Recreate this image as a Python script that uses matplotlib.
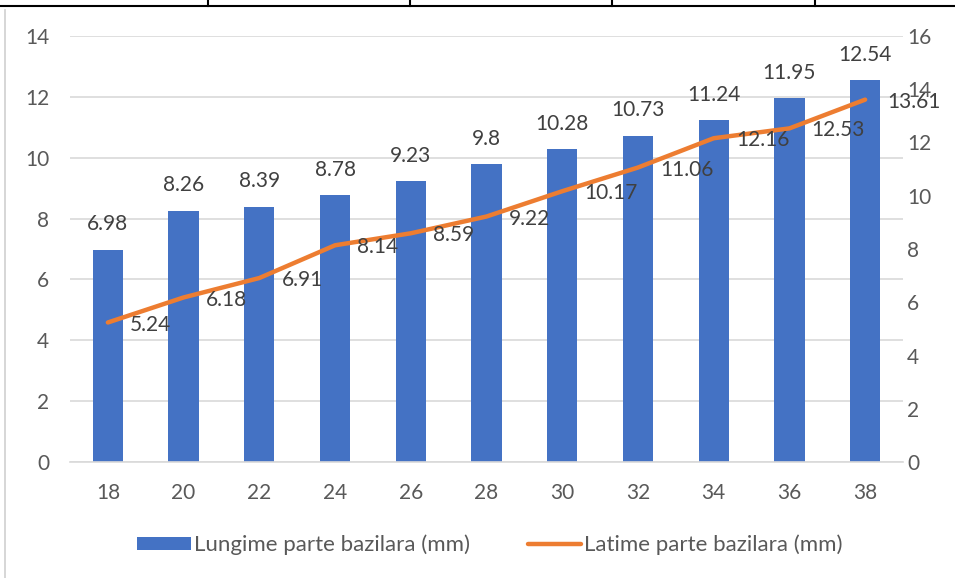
import matplotlib
matplotlib.use("Agg")
import matplotlib.pyplot as plt
from matplotlib.lines import Line2D
from matplotlib.patches import Patch
import numpy as np

categories = ["18", "20", "22", "24", "26", "28", "30", "32", "34", "36", "38"]
lungime = [6.98, 8.26, 8.39, 8.78, 9.23, 9.8, 10.28, 10.73, 11.24, 11.95, 12.54]
latime = [5.24, 6.18, 6.91, 8.14, 8.59, 9.22, 10.17, 11.06, 12.16, 12.53, 13.61]
lungime_labels = ["6.98", "8.26", "8.39", "8.78", "9.23", "9.8", "10.28", "10.73", "11.24", "11.95", "12.54"]
latime_labels = ["5.24", "6.18", "6.91", "8.14", "8.59", "9.22", "10.17", "11.06", "12.16", "12.53", "13.61"]
series_names = ["Lungime parte bazilara (mm)", "Latime parte bazilara (mm)"]

plt.rcParams['font.family'] = ['Lato', 'DejaVu Sans']
BLUE = "#4472C4"
ORANGE = "#ED7D31"
GRID = "#D9D9D9"
TXT = "#595959"
LBL = "#404040"
FS = 15

fig = plt.figure(figsize=(9.55, 5.78), dpi=100)
ax = fig.add_axes([70/955, 1-462/578, (903-70)/955, (462-36)/578])
ax2 = ax.twinx()

x = np.arange(len(categories))
bars = ax.bar(x, lungime, width=0.4, color=BLUE, zorder=2)
ax.set_xlim(-0.5, len(categories)-0.5)
ax.set_ylim(0, 14)
ax.set_yticks(np.arange(0, 15, 2))
ax.yaxis.grid(True, color=GRID, linewidth=1.2, zorder=0)
ax.set_axisbelow(True)
ax.set_xticks(x)
ax.set_xticklabels(categories)
for s in ["top", "left", "right"]:
    ax.spines[s].set_visible(False)
ax.spines["bottom"].set_color(GRID)
ax.spines["bottom"].set_linewidth(1.2)
ax.tick_params(axis='both', length=0, colors=TXT, labelsize=FS)
ax.tick_params(axis='x', pad=15)
ax.tick_params(axis='y', pad=15)

for xi, v, t in zip(x, lungime, lungime_labels):
    ax.annotate(t, (xi, v), xytext=(0, 11), textcoords='offset points',
                ha='center', va='bottom', fontsize=FS, color=LBL)

ax2.plot(x, latime, color=ORANGE, linewidth=3.2, solid_capstyle='round', zorder=3)
ax2.set_ylim(0, 16)
ax2.set_yticks(np.arange(0, 17, 2))
for s in ["top", "left", "right", "bottom"]:
    ax2.spines[s].set_visible(False)
ax2.tick_params(axis='y', length=0, colors=TXT, labelsize=FS, pad=3)
for xi, v, t in zip(x, latime, latime_labels):
    ax2.annotate(t, (xi, v), xytext=(16, -1.5), textcoords='offset points',
                 ha='left', va='center', fontsize=FS, color=LBL, zorder=5)

handles = [Patch(facecolor=BLUE, edgecolor='none'),
           Line2D([0], [0], color=ORANGE, linewidth=3.2, solid_capstyle='round')]
fig.legend(handles, series_names, loc='center', bbox_to_anchor=(490/955, 1-545/578),
           ncol=2, frameon=False, fontsize=16, labelcolor=TXT,
           handlelength=2.4, handleheight=0.55, handletextpad=0.15, columnspacing=2.6)

# document table borders
fig.add_artist(Line2D([0, 1], [1-6/578, 1-6/578], color='black', linewidth=1.5, transform=fig.transFigure))
for xv in [208, 410, 612, 815]:
    fig.add_artist(Line2D([xv/955, xv/955], [1-6/578, 1], color='black', linewidth=1.5, transform=fig.transFigure))
fig.add_artist(Line2D([5/955, 5/955], [0, 1-10/578], color='#D0D0D0', linewidth=1.2, transform=fig.transFigure))

fig.savefig("out.png", dpi=100, facecolor='white')
